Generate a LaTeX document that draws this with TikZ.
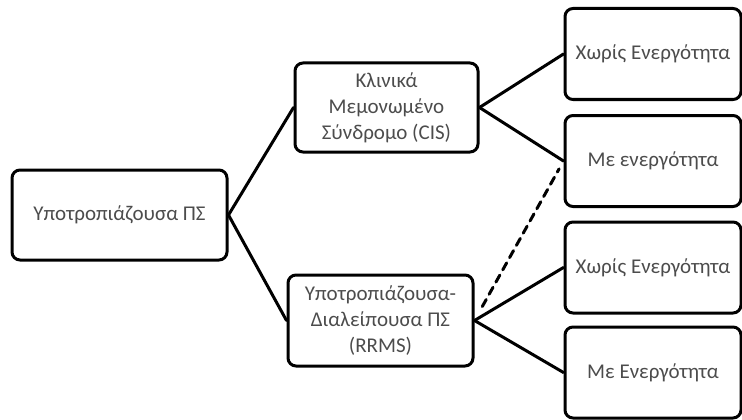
\documentclass[tikz,border=0pt]{standalone}
\usepackage{fontspec}
\setmainfont{Carlito}
\begin{document}
\begin{tikzpicture}[x=1pt,y=-1pt,line join=round,line cap=round]
            \tikzset{box style/.style={draw,line width=3pt,rounded corners=8pt,align=center,inner sep=0pt,
                text=black!70,font=\fontsize{21}{26}\selectfont}}
            \tikzset{leaf/.style={box style,minimum width=176,minimum height=91}}
            \def \lw{3pt}
            \useasboundingbox (0,0) rectangle (742,420);
            \node[box style,minimum width=215,minimum height=90] (ps) at (119.5,215) {Υποτροπιάζουσα ΠΣ};
            \node[box style,minimum width=183,minimum height=89] (cis) at (386.5,107.5) {Κλινικά\\Μεμονωμένο\\Σύνδρομο (CIS)};
            \node[box style,minimum width=185,minimum height=91] (rrms) at (380.5,320.5) {Υποτροπιάζουσα-\\Διαλείπουσα ΠΣ\\(RRMS)};
            \node[leaf] (cisno) at (653,54) {Χωρίς Ενεργότητα};
            \node[leaf] (cisyes) at (653,161) {Με ενεργότητα};
            \node[leaf] (rrmsno) at (653,267.5) {Χωρίς Ενεργότητα};
            \node[leaf] (rrmsyes) at (653,372.5) {Με Ενεργότητα};
            \foreach \a/\b in {ps/cis,ps/rrms,cis/cisno,cis/cisyes,rrms/rrmsno,rrms/rrmsyes}
            \draw[line width=\lw] (\a.east)--(\b.west);
            \draw[line width=\lw,dash pattern=on 8pt off 6pt,shorten <=16pt,shorten >=9pt] (rrms.east)--(cisyes.west);
        \end{tikzpicture}
\end{document}
